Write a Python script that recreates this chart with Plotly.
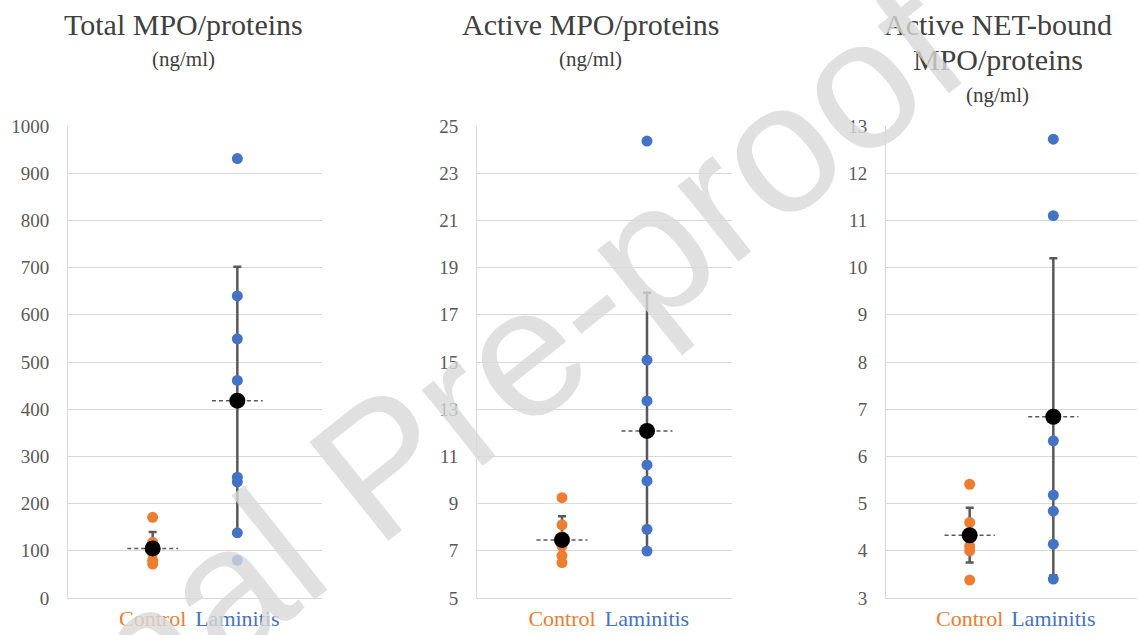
import plotly.graph_objects as go

# ---------------- data ----------------
categories = ["Control", "Laminitis"]
cat_pos = [1, 2]

title_lines = [
    ["Total MPO/proteins", "(ng/ml)"],
    ["Active MPO/proteins", "(ng/ml)"],
    ["Active NET-bound", "MPO/proteins", "(ng/ml)"],
]

total_control = [171, 118, 95, 80, 72]
total_laminitis = [931, 640, 549, 461, 256, 246, 138, 80]
total_means = [105, 418]
total_err_up = [35, 284]
total_err_down = [35, 284]

active_control = [9.25, 8.1, 7.6, 7.2, 6.8, 6.5]
active_laminitis = [24.36, 15.08, 13.35, 10.64, 9.96, 7.91, 6.99]
active_means = [7.46, 12.08]
active_err_up = [1.0, 5.85]
active_err_down = [1.0, 4.98]

net_control = [5.41, 4.6, 4.1, 4.0, 3.38]
net_laminitis = [12.72, 11.1, 6.33, 5.18, 4.84, 4.14, 3.4]
net_means = [4.33, 6.84]
net_err_up = [0.58, 3.36]
net_err_down = [0.58, 3.36]

y_ranges = [[0, 1000], [5, 25], [3, 13]]
y_dticks = [100, 2, 1]

mean_halfwidth = 0.3

# ---------------- style ----------------
ORANGE = "#ED7D31"
BLUE = "#4472C4"
GRID = "#D9D9D9"
TXT = "#595959"
TITLE = "#404040"
FONT = "Liberation Serif"

panels = [
    (total_control, total_laminitis, total_means, total_err_up, total_err_down),
    (active_control, active_laminitis, active_means, active_err_up, active_err_down),
    (net_control, net_laminitis, net_means, net_err_up, net_err_down),
]

W, H = 1140, 635
x_domains = [[68 / W, 322 / W], [477 / W, 732 / W], [886 / W, 1137 / W]]
y_domain = [37 / H, 509 / H]

fig = go.Figure()

for i, (ctrl, lam, means, eup, edn) in enumerate(panels):
    xa = "x" if i == 0 else f"x{i+1}"
    ya = "y" if i == 0 else f"y{i+1}"
    # vertical error bars (drawn first)
    fig.add_trace(go.Scatter(
        x=cat_pos, y=means, mode="markers", xaxis=xa, yaxis=ya,
        marker=dict(size=1, color="rgba(0,0,0,0)"),
        error_y=dict(type="data", symmetric=False, array=eup, arrayminus=edn,
                     visible=True, color=TXT, thickness=2.5, width=4),
        showlegend=False, hoverinfo="skip"))
    # horizontal dashed mean lines
    for cp, m in zip(cat_pos, means):
        fig.add_trace(go.Scatter(
            x=[cp - mean_halfwidth, cp + mean_halfwidth], y=[m, m],
            mode="lines", xaxis=xa, yaxis=ya,
            line=dict(color=TXT, width=1.5, dash="4px,3px"),
            showlegend=False, hoverinfo="skip"))
    # individual points
    fig.add_trace(go.Scatter(
        x=[cat_pos[0]] * len(ctrl), y=ctrl, mode="markers", xaxis=xa, yaxis=ya,
        marker=dict(size=11, color=ORANGE), showlegend=False))
    fig.add_trace(go.Scatter(
        x=[cat_pos[1]] * len(lam), y=lam, mode="markers", xaxis=xa, yaxis=ya,
        marker=dict(size=11, color=BLUE), showlegend=False))
    # means
    fig.add_trace(go.Scatter(
        x=cat_pos, y=means, mode="markers", xaxis=xa, yaxis=ya,
        marker=dict(size=16, color="black"), showlegend=False))

    xkey = "xaxis" if i == 0 else f"xaxis{i+1}"
    ykey = "yaxis" if i == 0 else f"yaxis{i+1}"
    fig.update_layout(**{
        xkey: dict(domain=x_domains[i], range=[0, 3], anchor=ya, automargin=False,
                   tickmode="array", tickvals=cat_pos,
                   ticktext=[f"<span style='color:{ORANGE}'>{categories[0]}</span>",
                             f"<span style='color:{BLUE}'>{categories[1]}</span>"],
                   tickfont=dict(family=FONT, size=22),
                   showgrid=False, zeroline=False, showline=True,
                   linecolor=GRID, linewidth=1, ticks="", ticklabelstandoff=1),
        ykey: dict(domain=y_domain, range=y_ranges[i], tick0=y_ranges[i][0],
                   dtick=y_dticks[i], anchor=xa, automargin=False,
                   tickfont=dict(family=FONT, size=19, color=TXT),
                   showgrid=True, gridcolor=GRID, gridwidth=1.3, zeroline=False,
                   showline=True, linecolor=GRID, linewidth=1, ticks="",
                   ticklabelstandoff=14),
    })

# panel titles (one annotation per line)
title_x = [183, 590, 998]
line_y = [24, 59, 95]
for tx, lines in zip(title_x, title_lines):
    for k, txt in enumerate(lines):
        small = txt.startswith("(")
        ly = line_y[k] if not (small and k == 1) else 59
        fig.add_annotation(text=txt, x=tx / W, y=1 - ly / H, xref="paper", yref="paper",
                           xanchor="center", yanchor="middle", showarrow=False,
                           font=dict(family=FONT, size=21 if small else 30, color=TITLE))

# watermark
fig.add_annotation(text="Journal Pre-proof", x=381 / W, y=1 - 465 / H,
                   xref="paper", yref="paper", xanchor="center", yanchor="middle",
                   showarrow=False, textangle=-38.6, opacity=0.8,
                   font=dict(family="Liberation Sans", size=184, color="#D9D9D9"))

fig.update_layout(width=W, height=H, autosize=False,
                  margin=dict(l=0, r=0, t=0, b=0),
                  paper_bgcolor="white", plot_bgcolor="white")

fig.write_html("out.html", config={"displayModeBar": False},
               post_script="document.body.style.margin='0px';")
